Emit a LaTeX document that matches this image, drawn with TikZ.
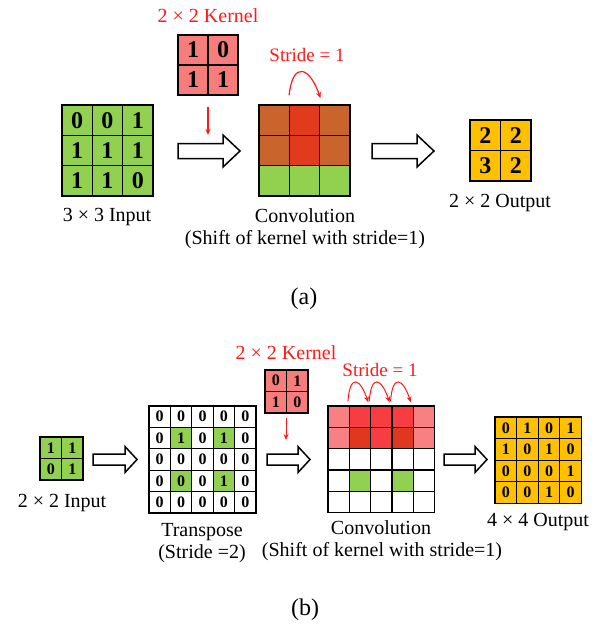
\documentclass[tikz,border=0pt]{standalone}
\usepackage{fontspec}
\setmainfont{Liberation Serif}
\usetikzlibrary{arrows.meta,calc}
\definecolor{cgreen}{HTML}{92D050}
\definecolor{cgold}{HTML}{FFC000}
\definecolor{cpinkA}{HTML}{F77C7C}
\definecolor{cbrown}{HTML}{C8642C}
\definecolor{credA}{HTML}{E13A1D}
\definecolor{cpinkB}{HTML}{F98082}
\definecolor{credB}{HTML}{F73C42}
\definecolor{cdredB}{HTML}{E0381F}
\definecolor{cred}{HTML}{FF1A1A}
\newcommand\hollowarr[6]{\draw[harrow] (#1,#3-#4) -- (#2-#6,#3-#4) -- (#2-#6,#3-#5) -- (#2,#3) -- (#2-#6,#3+#5) -- (#2-#6,#3+#4) -- (#1,#3+#4) -- cycle;}
\begin{document}
\begin{tikzpicture}[x=1pt,y=-1pt,
  acell/.style={draw=black, line width=1.6pt, minimum size=30.3pt, inner sep=0pt, font=\fontsize{24}{24}\selectfont\bfseries},
  bcell/.style={draw=black, line width=1.3pt, minimum size=21.4pt, inner sep=0pt, font=\fontsize{16}{16}\selectfont\bfseries},
  lbl/.style={font=\fontsize{20}{22}\selectfont, inner sep=0pt, align=center},
  rlbl/.style={lbl, text=cred},
  harrow/.style={draw=black, line width=1.5pt, fill=white, line join=miter},
  redarr/.style={draw=cred, line width=1.2pt, -{Stealth[length=6pt,width=5pt]}},
  sublbl/.style={font=\fontsize{24}{24}\selectfont, inner sep=0pt}]
\useasboundingbox (0,0) rectangle (603,632);
% ---------------- (a) ----------------
\foreach \r/\row in {0/{0,0,1},1/{1,1,1},2/{1,1,0}}{
  \foreach \v [count=\c from 0] in \row {
    \node[acell, fill=cgreen] (ain-\r-\c) at (62+15.15+30.3*\c, 105+15.15+30.3*\r) {\v};
  }}
\foreach \r/\row in {0/{1,0},1/{1,1}}{
  \foreach \v [count=\c from 0] in \row {
    \node[acell, fill=cpinkA, minimum size=30pt] (ak-\r-\c) at (178+15+30*\c, 35+15+30*\r) {\v};
  }}
\foreach \r/\row in {0/{cbrown,credA,cbrown},1/{cbrown,credA,cbrown},2/{cgreen,cgreen,cgreen}}{
  \foreach \v [count=\c from 0] in \row {
    \node[acell, fill=\v] (acv-\r-\c) at (259+15.15+30.3*\c, 105+15.15+30.3*\r) {};
  }}
\foreach \r/\row in {0/{2,2},1/{3,2}}{
  \foreach \v [count=\c from 0] in \row {
    \node[acell, fill=cgold, minimum size=30.5pt] (aout-\r-\c) at (470+15.25+30.5*\c, 120+15.25+30.5*\r) {\v};
  }}
\node[rlbl] (aktitle) at (208,16) {2 × 2 Kernel};
\node[lbl] (ainlbl) at (107,217) {3 × 3 Input};
\node[lbl] (acvlbl) at (305,229) {Convolution\\(Shift of kernel with stride=1)};
\node[lbl] (aoutlbl) at (500,203) {2 × 2 Output};
\node[rlbl, font=\fontsize{19}{20}\selectfont] (astride) at (307,55) {Stride = 1};
\node[sublbl] (alab) at (304,299) {(a)};
\hollowarr{178}{240}{151}{7.5}{16}{17}
\hollowarr{372}{434}{151}{7.5}{16}{17}
\coordinate (akd) at (208,107);
\coordinate (akd2) at (208,135);
\draw[redarr] (akd) -- (akd2);
\coordinate (as1) at ($(acv-0-0.north east)+(-1,-9)$);
\coordinate (as2) at ($(acv-0-1.north east)+(0,-6)$);
\draw[redarr] (as1) .. controls +(4,-36) and +(-10,-30) .. (as2);
% ---------------- (b) ----------------
\foreach \r/\row in {0/{1,1},1/{0,1}}{
  \foreach \v [count=\c from 0] in \row {
    \node[bcell, fill=cgreen, minimum size=21.5pt] (bin-\r-\c) at (40+10.75+21.5*\c, 437+10.75+21.5*\r) {\v};
  }}
\foreach \r/\row in {0/{0,0,0,0,0},1/{0,1,0,1,0},2/{0,0,0,0,0},3/{0,0,0,1,0},4/{0,0,0,0,0}}{
  \foreach \v [count=\c from 0] in \row {
    \node[bcell, fill=white] (btr-\r-\c) at (149+10.7+21.4*\c, 406+10.7+21.4*\r) {\v};
  }}
\foreach \r/\c in {1/1,1/3,3/1,3/3}{
  \node[bcell, fill=cgreen] at (btr-\r-\c) {\pgfmathparse{int(\r==3 && \c==1 ? 0 : 1)}\pgfmathresult};
}
\foreach \r/\row in {0/{0,1},1/{1,0}}{
  \foreach \v [count=\c from 0] in \row {
    \node[bcell, fill=cpinkA, minimum size=21.5pt] (bk-\r-\c) at (265+10.75+21.5*\c, 370+10.75+21.5*\r) {\v};
  }}
\foreach \r/\row in {0/{cpinkB,credB,credB,credB,cpinkB},1/{cpinkB,cdredB,credB,cdredB,cpinkB},2/{white,white,white,white,white},3/{white,cgreen,white,cgreen,white},4/{white,white,white,white,white}}{
  \foreach \v [count=\c from 0] in \row {
    \node[bcell, fill=\v, minimum size=21.3pt] (bcv-\r-\c) at (328+10.65+21.3*\c, 406+10.65+21.3*\r) {};
  }}
\foreach \r/\row in {0/{0,1,0,1},1/{1,0,1,0},2/{0,0,0,1},3/{0,0,1,0}}{
  \foreach \v [count=\c from 0] in \row {
    \node[bcell, fill=cgold, minimum size=21.6pt] (bout-\r-\c) at (495+10.8+21.6*\c, 417+10.8+21.6*\r) {\v};
  }}
\node[lbl] (binlbl) at (62,503) {2 × 2 Input};
\node[lbl] (btrlbl) at (202,543) {Transpose\\(Stride =2)};
\node[rlbl] (bktitle) at (286,353) {2 × 2 Kernel};
\node[rlbl, font=\fontsize{19}{20}\selectfont] (bstride) at (380,370) {Stride = 1};
\node[lbl] (bcvlbl) at (381,528) {Convolution};
\node[lbl] (bshift) at (382,552) {(Shift of kernel with stride=1)};
\node[lbl] (boutlbl) at (538,522) {4 × 4 Output};
\node[sublbl] (blab) at (305,610) {(b)};
\hollowarr{93}{137}{459.5}{5.5}{13}{12}
\hollowarr{267}{310}{459.5}{5.5}{13}{12}
\hollowarr{444}{487}{459.5}{5.5}{13}{12}
\coordinate (bkd) at (286,418);
\coordinate (bkd2) at (286,440);
\draw[redarr, line width=1pt] (bkd) -- (bkd2);
\foreach \a/\b in {0/1,1/2,2/3}{
  \coordinate (bs1-\a) at ($(bcv-0-\a.north east)+(-2,-4)$);
  \coordinate (bs2-\a) at ($(bcv-0-\b.north east)+(-3,-3)$);
  \draw[redarr, line width=1pt] (bs1-\a) .. controls +(2,-28) and +(-8,-24) .. (bs2-\a);
}
\end{tikzpicture}
\end{document}
